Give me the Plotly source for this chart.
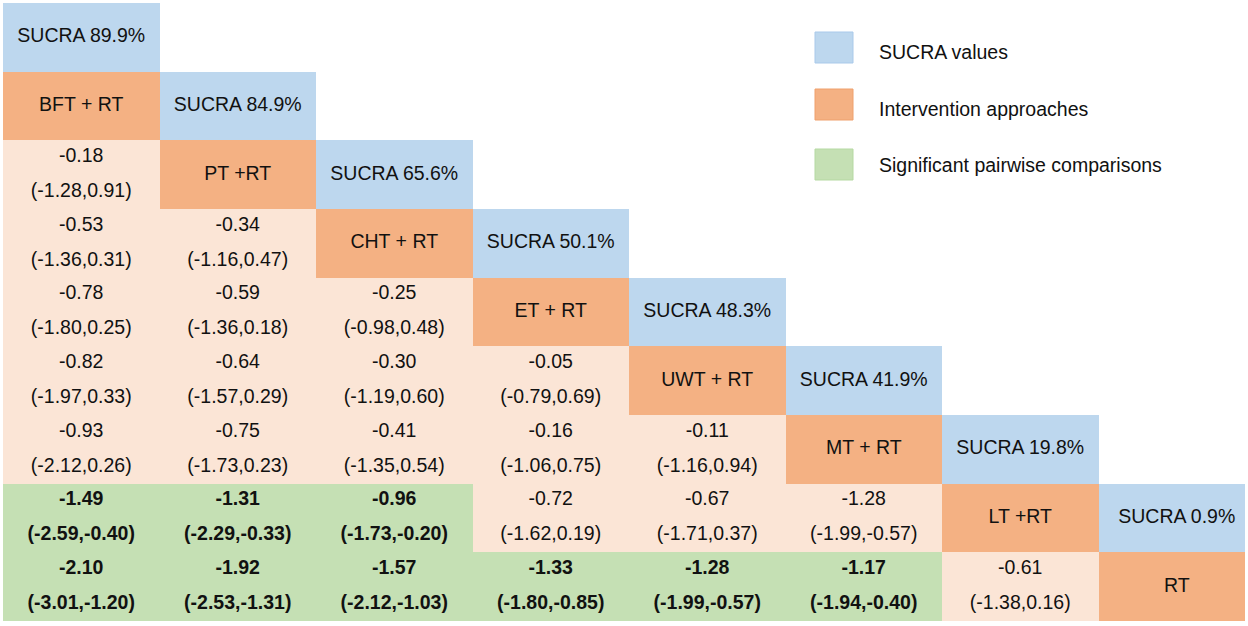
import plotly.graph_objects as go

# ---------------- data ----------------
treatments = ["BFT + RT", "PT +RT", "CHT + RT", "ET + RT", "UWT + RT", "MT + RT", "LT +RT", "RT"]
sucra = [89.9, 84.9, 65.6, 50.1, 48.3, 41.9, 19.8, 0.9]

# league-table rows (row index 2..8), columns 0..row-2
est_rows = [
    [-0.18],
    [-0.53, -0.34],
    [-0.78, -0.59, -0.25],
    [-0.82, -0.64, -0.30, -0.05],
    [-0.93, -0.75, -0.41, -0.16, -0.11],
    [-1.49, -1.31, -0.96, -0.72, -0.67, -1.28],
    [-2.10, -1.92, -1.57, -1.33, -1.28, -1.17, -0.61],
]
lo_rows = [
    [-1.28],
    [-1.36, -1.16],
    [-1.80, -1.36, -0.98],
    [-1.97, -1.57, -1.19, -0.79],
    [-2.12, -1.73, -1.35, -1.06, -1.16],
    [-2.59, -2.29, -1.73, -1.62, -1.71, -1.99],
    [-3.01, -2.53, -2.12, -1.80, -1.99, -1.94, -1.38],
]
hi_rows = [
    [0.91],
    [0.31, 0.47],
    [0.25, 0.18, 0.48],
    [0.33, 0.29, 0.60, 0.69],
    [0.26, 0.23, 0.54, 0.75, 0.94],
    [-0.40, -0.33, -0.20, 0.19, 0.37, -0.57],
    [-1.20, -1.31, -1.03, -0.85, -0.57, -0.40, 0.16],
]
sig_rows = [
    [0],
    [0, 0],
    [0, 0, 0],
    [0, 0, 0, 0],
    [0, 0, 0, 0, 0],
    [1, 1, 1, 0, 0, 0],
    [1, 1, 1, 1, 1, 1, 0],
]

legend_labels = ["SUCRA values", "Intervention approaches", "Significant pairwise comparisons"]

# ---------------- styles ----------------
C_BLUE = "#BDD7EE"
C_ORANGE = "#F4B183"
C_PALE = "#FBE5D6"
C_GREEN = "#C5E0B4"
legend_colors = [C_BLUE, C_ORANGE, C_GREEN]
legend_borders = ["#A9C9EA", "#EFA06C", "#B5D9A2"]
FONT = "Liberation Sans, Arial, Helvetica, sans-serif"
FS = 19.5

n = len(treatments)
nrows = n + 1

# category matrix: 0 sucra, 1 treatment, 2 non-sig, 3 sig
z = [[None] * n for _ in range(nrows)]
for k in range(n):
    z[k][k] = 0
    z[k + 1][k] = 1
for i, row in enumerate(sig_rows):
    r = i + 2
    for c, s in enumerate(row):
        z[r][c] = 3 if s else 2

colorscale = [
    [0.0, C_BLUE], [0.25, C_BLUE],
    [0.25, C_ORANGE], [0.5, C_ORANGE],
    [0.5, C_PALE], [0.75, C_PALE],
    [0.75, C_GREEN], [1.0, C_GREEN],
]

fig = go.Figure()
fig.add_trace(go.Heatmap(
    z=z,
    x=[c + 0.5 for c in range(n)],
    y=[r + 0.5 for r in range(nrows)],
    zmin=0, zmax=3,
    colorscale=colorscale,
    showscale=False,
    hoverinfo="skip",
    xgap=0, ygap=0,
))

# single-line texts (SUCRA + treatment names)
sx, sy, st = [], [], []
for k in range(n):
    sx.append(k + 0.5); sy.append(k + 0.5); st.append(f"SUCRA {sucra[k]}%")
    sx.append(k + 0.5); sy.append(k + 1.5); st.append(treatments[k])
fig.add_trace(go.Scatter(
    x=sx, y=sy, text=st, mode="text",
    textfont=dict(family=FONT, size=FS, color="#111111"),
    textposition="middle center", hoverinfo="skip", showlegend=False,
))

# two-line comparison texts
off = 0.255
cx, cy, ct = [], [], []
for i in range(len(est_rows)):
    r = i + 2
    for c in range(len(est_rows[i])):
        e = f"{est_rows[i][c]:.2f}"
        ci = f"({lo_rows[i][c]:.2f},{hi_rows[i][c]:.2f})"
        if sig_rows[i][c]:
            e = f"<b>{e}</b>"
            ci = f"<b>{ci}</b>"
        cx += [c + 0.5, c + 0.5]
        cy += [r + 0.5 - off, r + 0.5 + off]
        ct += [e, ci]
fig.add_trace(go.Scatter(
    x=cx, y=cy, text=ct, mode="text",
    textfont=dict(family=FONT, size=FS, color="#111111"),
    textposition="middle center", hoverinfo="skip", showlegend=False,
))

# legend (paper coordinates)
W, H = 1248, 626
ml, mr, mt, mb = 3, 3, 3, 5
pw, ph = W - ml - mr, H - mt - mb
def px(xp):
    return (xp - ml) / pw
def py(yp):
    return 1 - (yp - mt) / ph

sq_top = [32, 89, 149]
txt_y = [52, 109, 165]
for i, lab in enumerate(legend_labels):
    y0p = sq_top[i]
    fig.add_shape(type="rect", xref="paper", yref="paper",
                  x0=px(815), x1=px(853), y0=py(y0p + 31), y1=py(y0p),
                  fillcolor=legend_colors[i], line=dict(color=legend_borders[i], width=1))
    fig.add_annotation(xref="paper", yref="paper", x=px(877), y=py(txt_y[i]),
                       text=lab, showarrow=False, xanchor="left", yanchor="middle",
                       font=dict(family=FONT, size=FS, color="#111111"))

col_w = 156.5
fig.update_layout(
    width=W, height=H,
    margin=dict(l=ml, r=mr, t=mt, b=mb),
    paper_bgcolor="white", plot_bgcolor="white",
    showlegend=False,
    xaxis=dict(range=[0, pw / col_w], showgrid=False, zeroline=False,
               showticklabels=False, ticks="", fixedrange=True),
    yaxis=dict(range=[nrows, 0], showgrid=False, zeroline=False,
               showticklabels=False, ticks="", fixedrange=True),
    hovermode=False,
)

fig.write_html(
    "out.html",
    config={"displayModeBar": False},
    post_script="document.body.style.margin='0';document.body.style.overflow='hidden';",
)
